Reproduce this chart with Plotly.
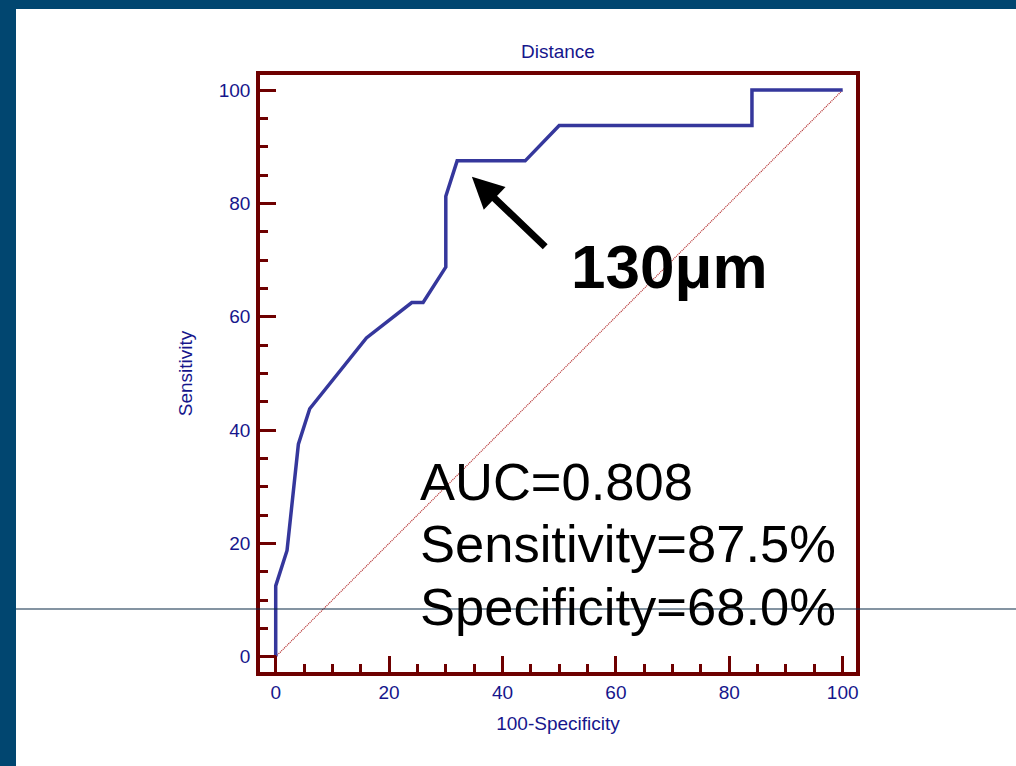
import plotly.graph_objects as go

# ---- data ----
fpr = [0, 0, 2, 4, 6, 16, 24, 26, 30, 30, 32, 44, 50, 84, 84, 100]          # 100-Specificity
tpr = [0, 12.5, 18.75, 37.5, 43.75, 56.25, 62.5, 62.5, 68.75, 81.25, 87.5, 87.5, 93.75, 93.75, 100, 100]  # Sensitivity
diag_x = [0, 100]
diag_y = [0, 100]
major_ticks = [0, 20, 40, 60, 80, 100]
chart_title = "Distance"
x_title = "100-Specificity"
y_title = "Sensitivity"
cutoff_label = "130μm"
stats_lines = ["AUC=0.808", "Sensitivity=87.5%", "Specificity=68.0%"]

# ---- layout geometry ----
W, H = 1016, 766
ML, MR, MT, MB = 260, 160, 75, 94
PW, PH = W - ML - MR, H - MT - MB

def px(x):
    return (x - ML) / PW

def py(y):
    return (H - MB - y) / PH

FRAME = "#6e0000"
NAVY = "#16168c"
FONT = "Arial, Liberation Sans, sans-serif"

fig = go.Figure()
fig.add_trace(go.Scatter(x=diag_x, y=diag_y, mode="lines",
                         line=dict(color="#b02424", width=1.2, dash="1px,1px"),
                         hoverinfo="skip", showlegend=False))
fig.add_trace(go.Scatter(x=fpr, y=tpr, mode="lines",
                         line=dict(color="#35379c", width=3.5),
                         showlegend=False))

axis_common = dict(
    showgrid=False, zeroline=False, showline=True, linecolor=FRAME, linewidth=3.5,
    mirror=True, ticks="inside", ticklen=16, tickwidth=2.5, tickcolor=FRAME,
    tickvals=major_ticks, tickfont=dict(family=FONT, size=19, color=NAVY),
    minor=dict(dtick=5, tick0=0, ticks="inside", ticklen=8, tickwidth=2.5, tickcolor=FRAME),
)
fig.update_xaxes(range=[-2.77, 102.35], title=dict(text=x_title, font=dict(family=FONT, size=19, color=NAVY), standoff=16),
                 **axis_common)
fig.update_yaxes(range=[-2.7, 102.65], title=dict(text=y_title, font=dict(family=FONT, size=19, color=NAVY), standoff=22),
                 ticklabelstandoff=2, **axis_common)

annotations = [
    dict(text=chart_title, x=0.5, y=py(51), xref="paper", yref="paper", showarrow=False,
         xanchor="center", yanchor="middle", font=dict(family=FONT, size=19, color=NAVY)),
    dict(text="", x=34.6, y=84.7, ax=47.8, ay=72.1, xref="x", yref="y", axref="x", ayref="y",
         showarrow=True, arrowhead=2, arrowsize=0.9, arrowwidth=7, arrowcolor="black", standoff=0),
    dict(text="<b>%s</b>" % cutoff_label, x=px(669), y=py(266), xref="paper", yref="paper",
         showarrow=False, xanchor="center", yanchor="middle", font=dict(family=FONT, size=62, color="black")),
]
for i, line in enumerate(stats_lines):
    annotations.append(dict(text=line, x=px(418), y=py(481 + 62.5 * i), xref="paper", yref="paper",
                            showarrow=False, xanchor="left", yanchor="middle",
                            font=dict(family=FONT, size=52.5, color="black")))

BAND = "#014670"
shapes = [
    dict(type="rect", xref="paper", yref="paper", x0=px(0), x1=px(W), y0=py(0), y1=py(9),
         fillcolor=BAND, line=dict(width=0), layer="above"),
    dict(type="rect", xref="paper", yref="paper", x0=px(0), x1=px(16), y0=py(0), y1=py(H),
         fillcolor=BAND, line=dict(width=0), layer="above"),
    dict(type="line", xref="paper", yref="paper", x0=px(16), x1=px(W), y0=py(609), y1=py(609),
         line=dict(color="#0b2b47", width=1.2), layer="above"),
]

fig.update_layout(
    width=W, height=H, margin=dict(l=ML, r=MR, t=MT, b=MB, autoexpand=False),
    paper_bgcolor="white", plot_bgcolor="white",
    annotations=annotations, shapes=shapes, showlegend=False,
)

fig.write_html("out.html", config={"displayModeBar": False},
               post_script="document.body.style.margin='0';document.body.style.overflow='hidden';")
